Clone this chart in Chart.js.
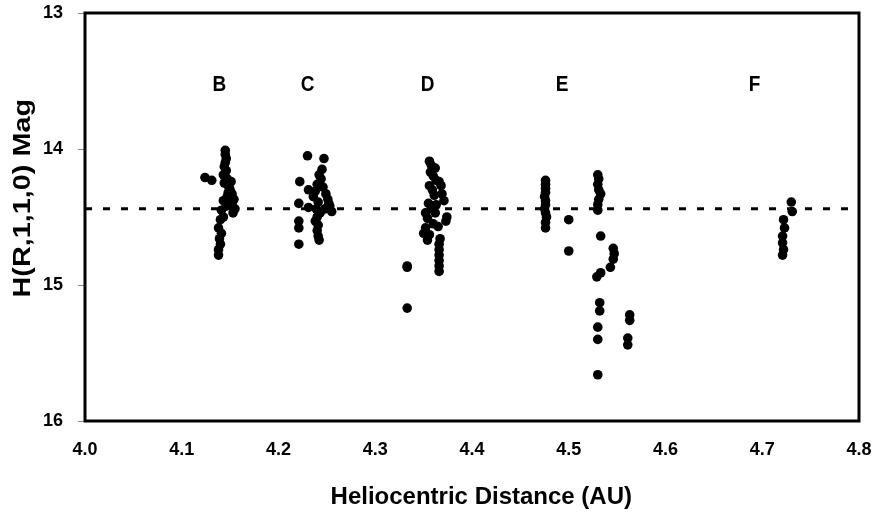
<!DOCTYPE html>
<html>
<head>
<meta charset="utf-8">
<script src="https://cdn.jsdelivr.net/npm/chart.js@4"></script>
<style>
  html, body { margin: 0; padding: 0; background: #fff; }
  #wrap { width: 875px; height: 516px; }
</style>
</head>
<body>
<div id="wrap"><canvas id="grafico"></canvas></div>
<script>
// dados (x = distância heliocêntrica, y = magnitude)
const grupoB_x = [4.124, 4.131, 4.145, 4.145, 4.146, 4.145, 4.144, 4.146, 4.143, 4.147, 4.144, 4.148, 4.150, 4.152, 4.147, 4.154, 4.143, 4.152, 4.146, 4.155, 4.141, 4.153, 4.143, 4.140, 4.138, 4.141, 4.139, 4.140, 4.138, 4.138, 4.149, 4.151, 4.148];
const grupoB_y = [14.21, 14.23, 14.01, 14.04, 14.07, 14.10, 14.13, 14.16, 14.19, 14.22, 14.25, 14.27, 14.30, 14.33, 14.35, 14.37, 14.38, 14.40, 14.42, 14.44, 14.45, 14.47, 14.50, 14.52, 14.58, 14.62, 14.66, 14.70, 14.74, 14.78, 14.28, 14.24, 14.32];

const grupoC_x = [4.222, 4.221, 4.221, 4.221, 4.221, 4.230, 4.231, 4.231, 4.247, 4.245, 4.242, 4.244, 4.240, 4.246, 4.238, 4.249, 4.236, 4.251, 4.241, 4.253, 4.239, 4.255, 4.243, 4.240, 4.238, 4.241, 4.240, 4.241, 4.242, 4.252, 4.248];
const grupoC_y = [14.24, 14.40, 14.53, 14.58, 14.70, 14.05, 14.30, 14.43, 14.07, 14.15, 14.19, 14.22, 14.26, 14.28, 14.31, 14.33, 14.35, 14.37, 14.39, 14.42, 14.44, 14.46, 14.47, 14.50, 14.53, 14.56, 14.60, 14.64, 14.67, 14.40, 14.44];

const grupoD_x = [4.333, 4.333, 4.333, 4.356, 4.358, 4.362, 4.357, 4.360, 4.363, 4.366, 4.368, 4.356, 4.359, 4.369, 4.361, 4.371, 4.355, 4.363, 4.358, 4.352, 4.362, 4.374, 4.354, 4.373, 4.360, 4.352, 4.365, 4.350, 4.356, 4.354, 4.367, 4.366, 4.366, 4.366, 4.366, 4.366, 4.366];
const grupoD_y = [14.86, 14.87, 15.17, 14.09, 14.12, 14.14, 14.17, 14.20, 14.23, 14.24, 14.27, 14.27, 14.30, 14.33, 14.34, 14.38, 14.40, 14.41, 14.44, 14.47, 14.47, 14.50, 14.51, 14.53, 14.55, 14.58, 14.57, 14.62, 14.63, 14.67, 14.66, 14.70, 14.74, 14.78, 14.82, 14.86, 14.90];

const grupoE_x = [4.476, 4.476, 4.476, 4.476, 4.475, 4.476, 4.476, 4.475, 4.476, 4.477, 4.476, 4.476, 4.500, 4.500, 4.530, 4.531, 4.530, 4.531, 4.533, 4.531, 4.530, 4.530, 4.533, 4.546, 4.547, 4.546, 4.543, 4.533, 4.529, 4.532, 4.532, 4.530, 4.530, 4.530, 4.563, 4.563, 4.561, 4.561];
const grupoE_y = [14.23, 14.26, 14.29, 14.32, 14.35, 14.38, 14.41, 14.44, 14.47, 14.50, 14.54, 14.58, 14.52, 14.75, 14.19, 14.22, 14.26, 14.30, 14.33, 14.37, 14.41, 14.45, 14.64, 14.73, 14.77, 14.81, 14.87, 14.91, 14.94, 15.13, 15.19, 15.31, 15.40, 15.66, 15.22, 15.26, 15.39, 15.44];

const grupoF_x = [4.730, 4.731, 4.722, 4.723, 4.721, 4.721, 4.722, 4.721];
const grupoF_y = [14.39, 14.46, 14.52, 14.58, 14.64, 14.69, 14.74, 14.78];

// linha tracejada (média) e rótulos das famílias
const linhaMedia = 14.44;
const rotulos = ['B', 'C', 'D', 'E', 'F'];
const rotulos_x = [4.139, 4.230, 4.354, 4.493, 4.692];
const rotulos_y = [13.53, 13.53, 13.53, 13.53, 13.53];

const ticksX = [4.0, 4.1, 4.2, 4.3, 4.4, 4.5, 4.6, 4.7, 4.8];
const ticksY = [13, 14, 15, 16];

const tituloX = 'Heliocentric Distance (AU)';
const tituloY = 'H(R,1,1,0) Mag';

function juntar(xs, ys) {
  return xs.map(function (x, i) { return { x: x, y: ys[i] }; });
}

var pontos = []
  .concat(juntar(grupoB_x, grupoB_y))
  .concat(juntar(grupoC_x, grupoC_y))
  .concat(juntar(grupoD_x, grupoD_y))
  .concat(juntar(grupoE_x, grupoE_y))
  .concat(juntar(grupoF_x, grupoF_y));

var familia = "'Liberation Sans', Arial, sans-serif";

// moldura preta, letras B..F e títulos dos eixos (o original tem o texto um pouco esticado)
var extras = {
  id: 'extras',
  afterDatasetsDraw: function (chart) {
    const ctx = chart.ctx;
    const a = chart.chartArea;
    const sx = chart.scales.x;
    const sy = chart.scales.y;
    ctx.save();
    ctx.strokeStyle = '#000';
    ctx.lineWidth = 3;
    ctx.strokeRect(a.left, a.top, a.right - a.left, a.bottom - a.top);
    ctx.fillStyle = '#000';
    ctx.font = 'bold 19px ' + familia;
    ctx.textAlign = 'center';
    ctx.textBaseline = 'middle';
    rotulos.forEach(function (r, i) {
      ctx.save();
      ctx.translate(sx.getPixelForValue(rotulos_x[i]), sy.getPixelForValue(rotulos_y[i]));
      ctx.scale(1, 1.12);
      ctx.fillText(r, 0, 0);
      ctx.restore();
    });

    ctx.font = 'bold 24px ' + familia;
    ctx.save();
    ctx.translate(a.left + (a.right - a.left) * 0.512, 497);
    ctx.fillText(tituloX, 0, 0);
    ctx.restore();

    ctx.save();
    ctx.translate(23, a.top + (a.bottom - a.top) * 0.454);
    ctx.rotate(-Math.PI / 2);
    ctx.scale(1.2, 1);
    ctx.fillText(tituloY, 0, 0);
    ctx.restore();
    ctx.restore();
  }
};

const grafico = new Chart(document.getElementById('grafico'), {
  type: 'scatter',
  data: {
    datasets: [
      {
        label: 'pontos',
        data: pontos,
        backgroundColor: '#000',
        borderColor: '#000',
        borderWidth: 0,
        pointRadius: 4.8,
        pointHoverRadius: 4.8
      },
      {
        type: 'line',
        label: 'media',
        data: [{ x: ticksX[0], y: linhaMedia }, { x: ticksX[ticksX.length - 1], y: linhaMedia }],
        borderColor: '#000',
        borderWidth: 3,
        borderDash: [7, 11],
        pointRadius: 0,
        fill: false
      }
    ]
  },
  options: {
    responsive: true,
    maintainAspectRatio: false,
    animation: false,
    layout: { padding: { top: 13, right: 16, left: 0, bottom: 0 } },
    plugins: {
      legend: { display: false },
      tooltip: { enabled: false }
    },
    scales: {
      x: {
        type: 'linear',
        min: ticksX[0],
        max: ticksX[ticksX.length - 1],
        afterBuildTicks: function (s) { s.ticks = ticksX.map(function (v) { return { value: v }; }); },
        afterFit: function (s) {
          s.height = 95;
          s.paddingLeft = 0;
          s.paddingRight = 0;
        },
        grid: { display: false },
        border: { display: false },
        ticks: {
          color: '#000',
          padding: 10,
          font: { family: familia, weight: 'bold', size: 18 },
          callback: function (v) { return v.toFixed(1); }
        }
      },
      y: {
        reverse: true,
        min: 13,
        max: 16,
        afterBuildTicks: function (s) { s.ticks = ticksY.map(function (v) { return { value: v }; }); },
        afterFit: function (s) {
          s.width = 85;
          s.paddingTop = 0;
          s.paddingBottom = 0;
        },
        grid: { drawOnChartArea: false, color: '#888', tickLength: 7, lineWidth: 1 },
        border: { display: false },
        ticks: {
          color: '#000',
          padding: 15,
          font: { family: familia, weight: 'bold', size: 18 }
        }
      }
    }
  },
  plugins: [extras]
});
</script>
</body>
</html>
